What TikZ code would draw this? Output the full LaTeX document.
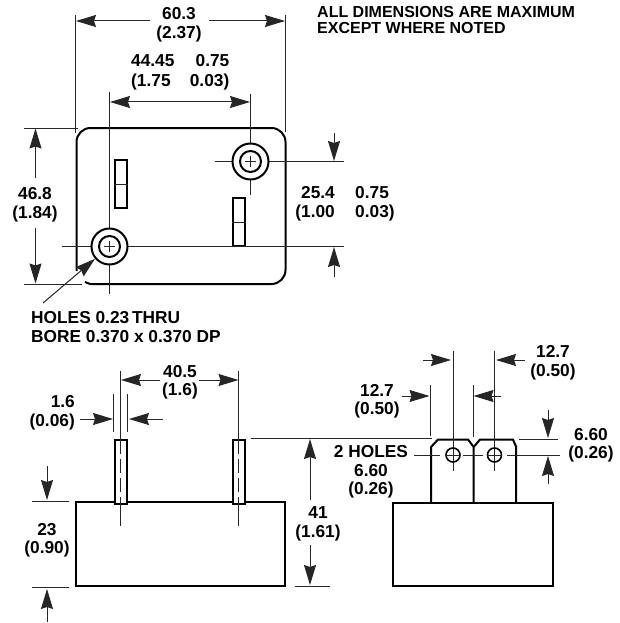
\documentclass[tikz,border=0pt]{standalone}
\usepackage{fontspec}
\setmainfont{Liberation Sans}
\usetikzlibrary{arrows.meta}

\begin{document}
\begin{tikzpicture}[x=1pt,y=-1pt]
\tikzstyle{dimtext}=[align=center, inner sep=0pt, font=\fontsize{17.3}{18.5}\selectfont\bfseries]
\tikzstyle{note}=[align=left, inner sep=0pt, anchor=west, font=\fontsize{16}{16.5}\selectfont\bfseries]
\tikzstyle{thin line}=[line width=1pt, black!85]
\tikzstyle{dimarrow}=[thin line, -{Stealth[length=20pt,width=12pt,inset=2pt]}]
\tikzstyle{outline}=[line width=2pt, black]
\tikzstyle{hole}=[circle, draw, line width=2pt, fill=white, inner sep=0pt]
\useasboundingbox (0,0) rectangle (619,623);

% texts
\node[dimtext] (w60) at (179,25) {60.3\\(2.37)};
\node[dimtext, align=left, anchor=west] (w44) at (131,72) {44.45\\[1.5pt](1.75};
\node[dimtext, align=right, anchor=east] (w44b) at (229.5,72) {0.75\\[1.5pt]0.03)};
\node[dimtext] (h46) at (35,205) {46.8\\(1.84)};
\node[dimtext, align=right, anchor=east] (h25) at (335,204) {25.4\\(1.00};
\node[dimtext, align=left, anchor=west] (h25b) at (355,204) {0.75\\0.03)};
\node[note] (allnote) at (317,20) {ALL DIMENSIONS ARE MAXIMUM\\EXCEPT WHERE NOTED};
\node[dimtext, align=left, anchor=west] (holes) at (31,327) {HOLES 0.23\,THRU\\BORE 0.370 x 0.370 DP};
\node[dimtext] (w40) at (180,382.5) {40.5\\(1.6)};
\node[dimtext, align=right, anchor=east] (w16) at (75,413) {1.6\\(0.06)};
\node[dimtext] (h23) at (47,540) {23\\(0.90)};
\node[dimtext] (h41) at (318,524) {41\\(1.61)};
\node[dimtext] (tab1) at (553,363) {12.7\\(0.50)};
\node[dimtext] (tab2) at (377,401) {12.7\\(0.50)};
\node[dimtext] (holes2) at (371,472) {2 HOLES\\6.60\\(0.26)};
\node[dimtext] (h66) at (591,445) {6.60\\(0.26)};

% top view
\draw[outline] (76.5,271) -- (76.5,142) arc (180:270:14) -- (271.5,128) arc (270:360:14) -- (285.5,270) arc (0:90:14) -- (90,284) -- (85,282);
\node[draw, outline, minimum width=12pt, minimum height=48pt, inner sep=0pt] (slot1) at (120.7,184) {};
\node[draw, outline, minimum width=12pt, minimum height=48pt, inner sep=0pt] (slot2) at (238.5,222) {};
\coordinate (g1) at (250.5,94);
\coordinate (g2) at (250.5,195);
\coordinate (g3) at (215,161.5);
\coordinate (g4) at (344,161.5);
\coordinate (g5) at (109.5,92);
\coordinate (g6) at (109.5,294);
\coordinate (g7) at (62,246.5);
\coordinate (g8) at (344,246.5);
\path
(g1) edge[thin line] (g2)
(g3) edge[thin line] (g4)
(g5) edge[thin line] (g6)
(g7) edge[thin line] (g8)
(slot1.west) edge[thin line] (slot1.east)
(slot2.west) edge[thin line] (slot2.east);
\node[hole, minimum size=36pt] (hole1) at (250.5,161.5) {};
\node[hole, minimum size=36pt] (hole2) at (109.5,246.5) {};
\node[hole, minimum size=21pt] (bore1) at (250.5,161.5) {};
\node[hole, minimum size=21pt] (bore2) at (109.5,246.5) {};
\path
(bore1.center) ++(-5.5,0) coordinate (c1a) ++(11,0) coordinate (c1b)
(bore1.center) ++(0,-5.5) coordinate (c1c) ++(0,11) coordinate (c1d)
(bore2.center) ++(-5.5,0) coordinate (c2a) ++(11,0) coordinate (c2b)
(bore2.center) ++(0,-5.5) coordinate (c2c) ++(0,11) coordinate (c2d)
(c1a) edge[thin line] (c1b)
(c1c) edge[thin line] (c1d)
(c2a) edge[thin line] (c2b)
(c2c) edge[thin line] (c2d);

% top view dimensions
\coordinate (e1) at (75.5,15);
\coordinate (e2) at (75.5,133);
\coordinate (e3) at (285.5,15);
\coordinate (e4) at (285.5,132);
\coordinate (a1) at (150,21);
\coordinate (a2) at (76,21);
\coordinate (a3) at (209,21);
\coordinate (a4) at (285,21);
\coordinate (a5) at (180,102);
\coordinate (a6) at (110,102);
\coordinate (a7) at (250,102);
\coordinate (e5) at (24,128);
\coordinate (e6) at (78,128);
\coordinate (e7) at (24,284);
\coordinate (e8) at (82,284);
\coordinate (a8) at (35.5,178);
\coordinate (a9) at (35.5,128.5);
\coordinate (a10) at (35.5,228);
\coordinate (a11) at (35.5,283.5);
\coordinate (a12) at (334,133);
\coordinate (a13) at (334,161);
\coordinate (a14) at (334,277);
\coordinate (a15) at (334,247);
\coordinate (a16) at (43,303);
\path
(e1) edge[thin line] (e2)
(e3) edge[thin line] (e4)
(e5) edge[thin line] (e6)
(e7) edge[thin line] (e8)
(a1) edge[dimarrow] (a2)
(a3) edge[dimarrow] (a4)
(a5) edge[dimarrow] (a6)
    edge[dimarrow] (a7)
(a8) edge[dimarrow] (a9)
(a10) edge[dimarrow] (a11)
(a12) edge[dimarrow] (a13)
(a14) edge[dimarrow] (a15)
(a16) edge[dimarrow] (hole2);

% left side view
\node[draw, outline, minimum width=208.5pt, minimum height=84pt, inner sep=0pt] (bodyA) at (180.7,544) {};
\node[draw, outline, fill=white, minimum width=12pt, minimum height=64pt, inner sep=0pt] (pin1) at (120.7,472) {};
\node[draw, outline, fill=white, minimum width=12pt, minimum height=64pt, inner sep=0pt] (pin2) at (238.5,472) {};
\coordinate (p1) at (120.5,371);
\coordinate (p2) at (120.5,440);
\coordinate (p3) at (120.5,504);
\coordinate (p4) at (120.5,526);
\coordinate (p5) at (238.5,371);
\coordinate (p6) at (238.5,440);
\coordinate (p7) at (238.5,504);
\coordinate (p8) at (238.5,526);
\path
(p1) edge[thin line] (p2)
(p2) edge[thin line, dash pattern=on 14pt off 5pt] (p3)
(p3) edge[thin line] (p4)
(p5) edge[thin line] (p6)
(p6) edge[thin line, dash pattern=on 14pt off 5pt] (p7)
(p7) edge[thin line] (p8);

% left side dimensions
\coordinate (b1) at (160,380);
\coordinate (b2) at (121,380);
\coordinate (b3) at (199,380);
\coordinate (b4) at (238.5,380);
\coordinate (b5) at (113.5,394);
\coordinate (b6) at (113.5,432);
\coordinate (b7) at (127.5,394);
\coordinate (b8) at (127.5,432);
\coordinate (b9) at (80,419);
\coordinate (b10) at (113,419);
\coordinate (b11) at (163,419);
\coordinate (b12) at (129,419);
\coordinate (b13) at (32,501);
\coordinate (b14) at (69,501);
\coordinate (b15) at (32,587);
\coordinate (b16) at (69,587);
\coordinate (b17) at (47,466);
\coordinate (b18) at (47,500);
\coordinate (b19) at (47,622);
\coordinate (b20) at (47,589);
\coordinate (b21) at (251,438);
\coordinate (b22) at (432,438);
\coordinate (b23) at (295,586);
\coordinate (b24) at (330,586);
\coordinate (b25) at (310,500);
\coordinate (b26) at (310,439);
\coordinate (b27) at (310,545);
\coordinate (b28) at (310,585);
\path
(b1) edge[dimarrow] (b2)
(b3) edge[dimarrow] (b4)
(b5) edge[thin line] (b6)
(b7) edge[thin line] (b8)
(b9) edge[dimarrow] (b10)
(b11) edge[dimarrow] (b12)
(b13) edge[thin line] (b14)
(b15) edge[thin line] (b16)
(b17) edge[dimarrow] (b18)
(b19) edge[dimarrow] (b20)
(b21) edge[thin line] (b22)
(b23) edge[thin line] (b24)
(b25) edge[dimarrow] (b26)
(b27) edge[dimarrow] (b28);

% right side view
\node[draw, outline, minimum width=160pt, minimum height=83pt, inner sep=0pt] (bodyB) at (473,544.5) {};
\draw[outline] (431,503) -- (431,447) -- (438,439.5) -- (468,439.5) -- (473.7,447) -- (473.7,503);
\draw[outline] (473.7,447) -- (480,439.5) -- (513,439.5) -- (516,446.5) -- (516,503);
\coordinate (t1) at (453,351);
\coordinate (t2) at (453,471);
\coordinate (t3) at (494.5,351);
\coordinate (t4) at (494.5,471);
\coordinate (t5) at (414,455);
\coordinate (t6) at (440,455);
\coordinate (t7) at (463,455);
\coordinate (t8) at (483,455);
\coordinate (t9) at (507,455);
\coordinate (t10) at (560,455);
\path
(t1) edge[thin line] (t2)
(t3) edge[thin line] (t4)
(t5) edge[thin line] (t6)
(t7) edge[thin line] (t8)
(t9) edge[thin line] (t10);
\node[circle, draw, line width=1.6pt, minimum size=14pt, inner sep=0pt] (tabhole1) at (453,455) {};
\node[circle, draw, line width=1.6pt, minimum size=14pt, inner sep=0pt] (tabhole2) at (494.5,455) {};
\path
(tabhole1.west) edge[thin line] (tabhole1.east)
(tabhole2.west) edge[thin line] (tabhole2.east);

% right side dimensions
\coordinate (d1) at (423,360);
\coordinate (d2) at (451,360);
\coordinate (d3) at (525,360);
\coordinate (d4) at (496,360);
\coordinate (d5) at (430,385);
\coordinate (d6) at (430,436);
\coordinate (d7) at (473,385);
\coordinate (d8) at (473,437);
\coordinate (d9) at (402,396);
\coordinate (d10) at (429.5,396);
\coordinate (d11) at (501,396);
\coordinate (d12) at (473.5,396);
\coordinate (d13) at (548,410);
\coordinate (d14) at (548,438);
\coordinate (d15) at (548,484);
\coordinate (d16) at (548,456);
\coordinate (d17) at (519,439);
\coordinate (d18) at (558,439);
\path
(d1) edge[dimarrow] (d2)
(d3) edge[dimarrow] (d4)
(d5) edge[thin line] (d6)
(d7) edge[thin line] (d8)
(d9) edge[dimarrow] (d10)
(d11) edge[dimarrow] (d12)
(d13) edge[dimarrow] (d14)
(d15) edge[dimarrow] (d16)
(d17) edge[thin line] (d18);
\end{tikzpicture}
\end{document}
